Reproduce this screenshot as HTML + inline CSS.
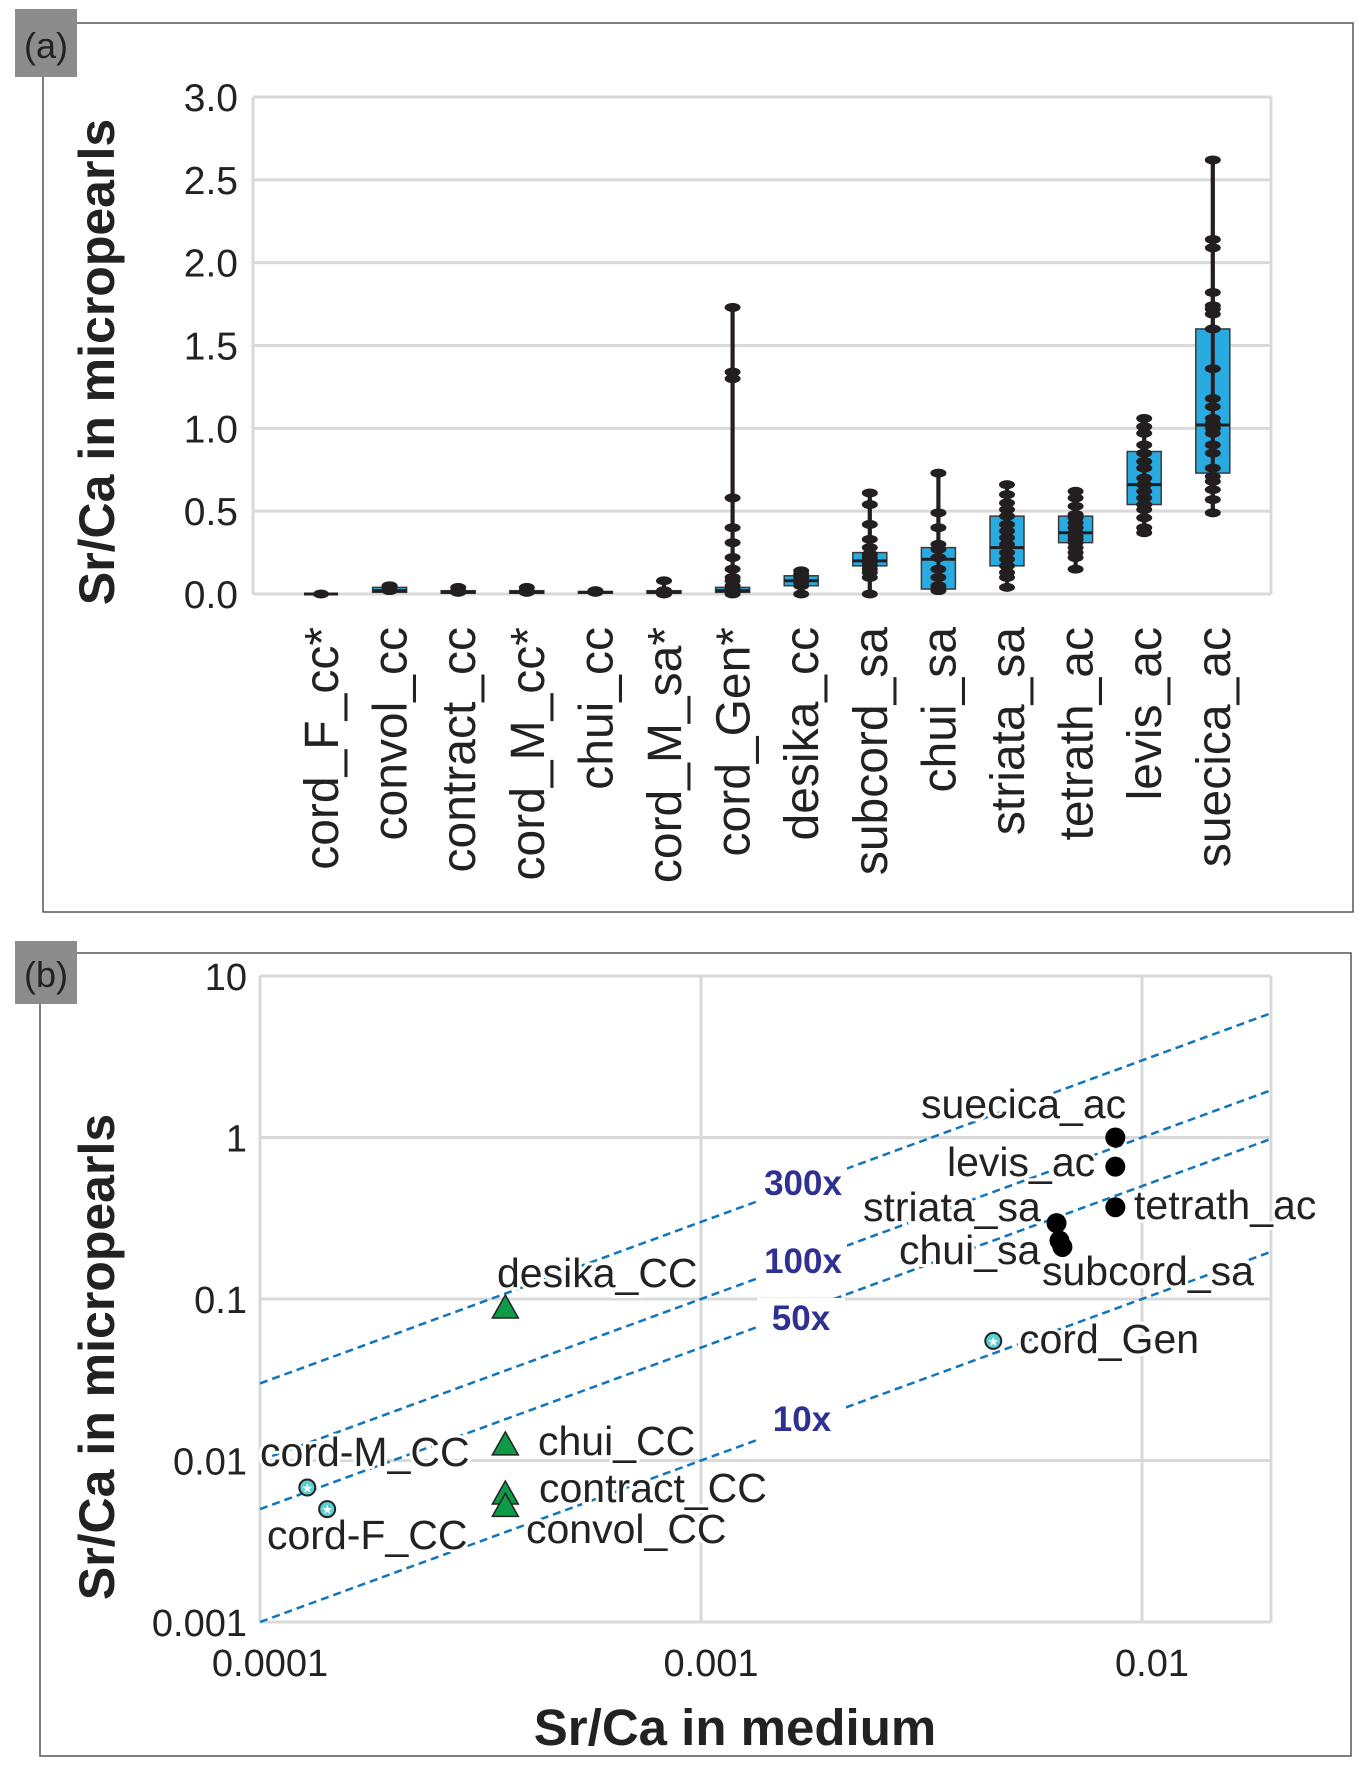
<!DOCTYPE html>
<html><head><meta charset="utf-8"><style>
html,body{margin:0;padding:0;background:#fff}
svg{display:block}
text{font-family:"Liberation Sans",sans-serif}
</style></head><body>
<svg id="fig" width="1368" height="1767" viewBox="0 0 1368 1767" xmlns="http://www.w3.org/2000/svg">
<rect x="43" y="23" width="1310" height="889" fill="none" stroke="#555" stroke-width="1.5"/>
<rect x="15" y="9" width="62" height="68" fill="#8c8c8c"/>
<text x="46" y="58" font-size="36" text-anchor="middle" fill="#222">(a)</text>
<rect x="40" y="953" width="1311" height="803" fill="none" stroke="#555" stroke-width="1.5"/>
<rect x="15" y="941" width="62" height="63" fill="#8c8c8c"/>
<text x="46" y="987" font-size="36" text-anchor="middle" fill="#222">(b)</text>
<g id="ga"></g>
<g id="gb"></g>
</svg>
<script>
const categories=["cord_F_cc*","convol_cc","contract_cc","cord_M_cc*","chui_cc","cord_M_sa*","cord_Gen*","desika_cc","subcord_sa","chui_sa","striata_sa","tetrath_ac","levis_ac","suecica_ac"];
const q1=[0,0.01,0.005,0.005,0.005,0.005,0.01,0.05,0.17,0.03,0.17,0.31,0.54,0.73];
const median=[0,0.02,0.01,0.01,0.01,0.01,0.02,0.08,0.20,0.21,0.28,0.37,0.66,1.02];
const q3=[0,0.04,0.02,0.02,0.015,0.02,0.04,0.11,0.25,0.28,0.47,0.47,0.86,1.60];
const points=[[0],[0.02,0.04,0.05],[0.01,0.02,0.04],[0.01,0.02,0.04],[0.01,0.02],[0.0,0.01,0.02,0.08],
[0,0.01,0.03,0.05,0.08,0.1,0.15,0.22,0.31,0.4,0.58,1.3,1.34,1.73],
[0,0.05,0.07,0.1,0.12,0.14],
[0,0.1,0.13,0.15,0.17,0.19,0.2,0.22,0.24,0.28,0.33,0.42,0.54,0.61],
[0.02,0.03,0.05,0.1,0.15,0.22,0.27,0.3,0.4,0.49,0.73],
[0.04,0.1,0.13,0.17,0.21,0.25,0.3,0.34,0.38,0.42,0.47,0.51,0.55,0.6,0.66],
[0.15,0.22,0.25,0.28,0.31,0.33,0.35,0.37,0.4,0.43,0.46,0.48,0.53,0.58,0.62],
[0.37,0.4,0.46,0.51,0.54,0.58,0.62,0.66,0.7,0.76,0.8,0.85,0.9,0.97,1.01,1.06],
[0.49,0.57,0.63,0.68,0.71,0.76,0.85,0.9,0.97,1.0,1.03,1.06,1.13,1.18,1.36,1.6,1.69,1.72,1.74,1.82,2.09,2.14,2.62]];
const yTicksA=[0,0.5,1.0,1.5,2.0,2.5,3.0];
const yTickLabelsA=["0.0","0.5","1.0","1.5","2.0","2.5","3.0"];

const scNames=["cord-F_CC","cord-M_CC","desika_CC","chui_CC","contract_CC","convol_CC","cord_Gen","suecica_ac","levis_ac","tetrath_ac","striata_sa","chui_sa","subcord_sa"];
const scX=[0.000142,0.000128,0.00036,0.00036,0.00036,0.00036,0.0046,0.0087,0.0087,0.0087,0.0064,0.0065,0.0066];
const scY=[0.005,0.0068,0.088,0.0125,0.0062,0.0052,0.055,1.0,0.66,0.37,0.295,0.23,0.21];
const scMarker=["star","star","tri","tri","tri","tri","star","dot","dot","dot","dot","dot","dot"];
const ratios=[300,100,50,10];
const ratioLabels=["300x","100x","50x","10x"];
const xTicksB=[0.0001,0.001,0.01];
const xTickLabelsB=["0.0001","0.001","0.01"];
const yTicksB=[0.001,0.01,0.1,1,10];
const yTickLabelsB=["0.001","0.01","0.1","1","10"];

const NS="http://www.w3.org/2000/svg";
function mk(p,tag,at,txt){const e=document.createElementNS(NS,tag);for(const k in at)e.setAttribute(k,at[k]);if(txt!==undefined)e.textContent=txt;p.appendChild(e);return e;}

// Panel A
const ga=document.getElementById('ga');
const AX0=253,AX1=1271,AY0=594,AY1=97;
const ya=v=>AY0-(v/3)*(AY0-AY1);
const xa=i=>321+i*68.6;
yTicksA.forEach((t,i)=>{
 const g=mk(ga,'line',{x1:AX0,x2:AX1,y1:ya(t),y2:ya(t),stroke:'#d9d9d9','stroke-width':3});
 
 
 const l=mk(ga,'text',{x:238,y:ya(t)+14,'font-size':39,'text-anchor':'end',fill:'#222'},yTickLabelsA[i]);
 
 
});
const fa=mk(ga,'line',{x1:AX1,x2:AX1,y1:AY1,y2:AY0,stroke:'#d9d9d9','stroke-width':3});


const fa2=mk(ga,'line',{x1:AX0,x2:AX0,y1:AY1,y2:AY0,stroke:'#d9d9d9','stroke-width':3});


const yta=mk(ga,'text',{x:0,y:0,transform:'translate(114,362) rotate(-90)','font-size':50,'font-weight':'bold','text-anchor':'middle',fill:'#222'},'Sr/Ca in micropearls');


categories.forEach((c,i)=>{
 const x=xa(i),pts=points[i];
 const mn=Math.min(...pts),mx=Math.max(...pts);
 const w=mk(ga,'line',{x1:x,x2:x,y1:ya(mn),y2:ya(mx),stroke:'#231f20','stroke-width':4});
 
 
 const b=mk(ga,'rect',{x:x-17,y:ya(q3[i]),width:34,height:Math.max(ya(q1[i])-ya(q3[i]),0),fill:'#29abe2',stroke:'#3a3a3a','stroke-width':1.5});
 
 
 const m=mk(ga,'line',{x1:x-17,x2:x+17,y1:ya(median[i]),y2:ya(median[i]),stroke:'#231f20','stroke-width':3});
 
 
 mk(ga,'line',{x1:x,x2:x,y1:ya(mn),y2:ya(mx),stroke:'#231f20','stroke-width':4});
 pts.forEach(v=>{
  const p=mk(ga,'ellipse',{cx:x,cy:ya(v),rx:8,ry:4.5,fill:'#231f20'});
  
  
 });
 const t=mk(ga,'text',{x:0,y:0,transform:`translate(${x+17},627) rotate(-90)`,'font-size':48,'text-anchor':'end',fill:'#222'},c);
 
 
});

// Panel B
const gb=document.getElementById('gb');
const BX0=260,BX1=1271,BY0=1622,BY1=976;
const xb=v=>BX0+(Math.log10(v)+4)*441;
const yb=v=>BY0-(Math.log10(v)+3)*161.5;
xTicksB.forEach((t,i)=>{
 const g=mk(gb,'line',{x1:xb(t),x2:xb(t),y1:BY1,y2:BY0,stroke:'#d9d9d9','stroke-width':3});
 
 
 const l=mk(gb,'text',{x:xb(t)+10,y:1676,'font-size':38,'text-anchor':'middle',fill:'#222'},xTickLabelsB[i]);
 
 
});
yTicksB.forEach((t,i)=>{
 const g=mk(gb,'line',{x1:BX0,x2:BX1,y1:yb(t),y2:yb(t),stroke:'#d9d9d9','stroke-width':3});
 
 
 const l=mk(gb,'text',{x:247,y:yb(t)+14,'font-size':38,'text-anchor':'end',fill:'#222'},yTickLabelsB[i]);
 
 
});
const fb=mk(gb,'line',{x1:BX1,x2:BX1,y1:BY1,y2:BY0,stroke:'#d9d9d9','stroke-width':3});


const fb2=mk(gb,'line',{x1:BX0,x2:BX0,y1:BY1,y2:BY0,stroke:'#d9d9d9','stroke-width':3});


const xEnd=0.0195;
ratios.forEach((k,i)=>{
 const l=mk(gb,'line',{x1:xb(0.0001),y1:yb(0.0001*k),x2:xb(xEnd),y2:yb(xEnd*k),stroke:'#0f75bc','stroke-width':2.5,'stroke-dasharray':'8,5'});
 
 
});
const labPos=[[803,1195],[803,1273],[801,1330],[802,1431]];
ratioLabels.forEach((r,i)=>{
 mk(gb,'rect',{x:labPos[i][0]-44,y:labPos[i][1]-32,width:88,height:42,fill:'#fff'});
 const t=mk(gb,'text',{x:labPos[i][0],y:labPos[i][1],'font-size':35,'font-weight':'bold','text-anchor':'middle',fill:'#2e3192'},r);
 
 
});
const lblPos=[[267,1549],[260,1466],[497,1287],[538,1455],[539,1502],[526,1543],[1019,1353],[921,1118],[947,1176],[1134,1219],[863,1221],[899,1264],[1042,1285]];
scNames.forEach((n,i)=>{
 const t=mk(gb,'text',{x:lblPos[i][0],y:lblPos[i][1],'font-size':41,fill:'#222',stroke:'#fff','stroke-width':6,'paint-order':'stroke'},n);
 
 
});
scNames.forEach((n,i)=>{
 const x=xb(scX[i]),y=yb(scY[i]);let p;
 if(scMarker[i]==='dot'){p=mk(gb,'circle',{cx:x,cy:y,r:10,fill:'#000'});}
 else if(scMarker[i]==='tri'){p=mk(gb,'polygon',{points:`${x},${y-13} ${x-13},${y+10} ${x+13},${y+10}`,fill:'#0d9b48',stroke:'#222','stroke-width':1.5});}
 else{p=mk(gb,'circle',{cx:x,cy:y,r:8,fill:'#5ccfd6',stroke:'#222','stroke-width':2});
  const s=mk(gb,'text',{x:x,y:y+5,'font-size':13,'text-anchor':'middle',fill:'#fff'},'★');
  
  }
 
 
});
const xtb=mk(gb,'text',{x:735,y:1745,'font-size':51,'font-weight':'bold','text-anchor':'middle',fill:'#222'},'Sr/Ca in medium');


const ytb=mk(gb,'text',{x:0,y:0,transform:'translate(114,1357) rotate(-90)','font-size':50,'font-weight':'bold','text-anchor':'middle',fill:'#222'},'Sr/Ca in micropearls');


</script>
</body></html>
